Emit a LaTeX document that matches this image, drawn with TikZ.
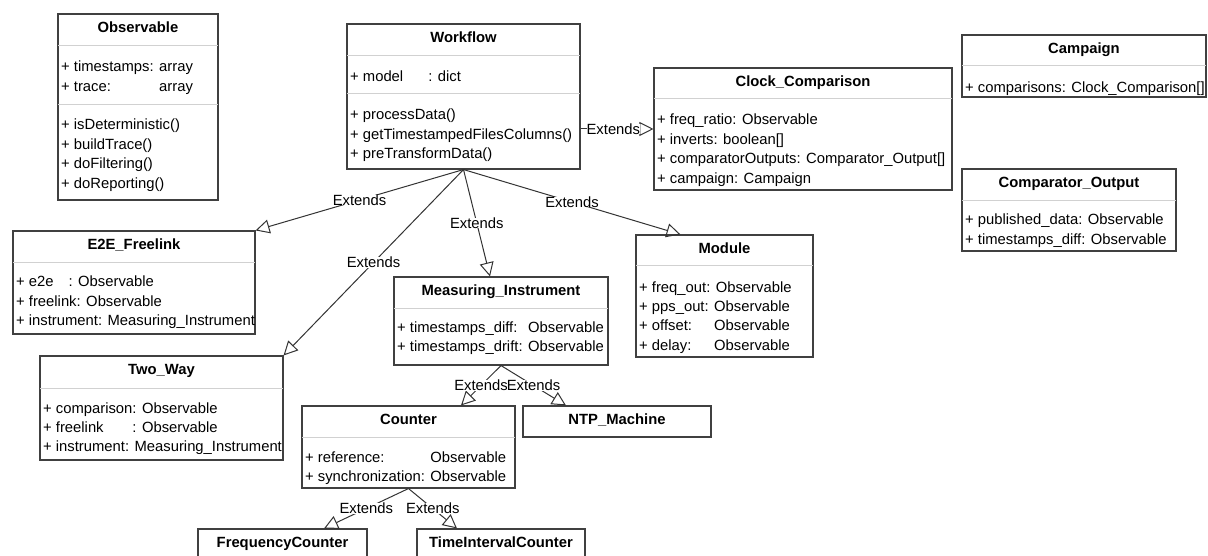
\documentclass[tikz,border=0pt]{standalone}
\usepackage{fontspec}
\setmainfont{Liberation Sans}
\usetikzlibrary{arrows.meta,fit,calc}

\newcommand\umlfont{\fontsize{14.8}{19.4}\selectfont}

\tikzset{
  classbox/.style={draw=black!75, line width=1.1pt, inner sep=0pt, fill=white},
  classtitle/.style={anchor=base, inner sep=0pt, font=\umlfont\bfseries},
  member/.style={anchor=base west, inner sep=0pt},
  sepline/.style={draw=black!18, line width=1pt},
  ext/.style={draw=black!80, line width=1pt, -{Triangle[open, length=14pt, width=14pt]}},
  extlabel/.style={fill=white, inner sep=0pt},
}

% class frame with its bold name in the top compartment
\newcommand\umlclass[6]{%
  \node[classbox, fit={(#2,#3) (#4,#5)}] (#1) {};
  \node[classtitle] (#1-title) at ($(#1.north)+(0,19)$) {#6};
}
% light rule between two compartments
\newcommand\umlsep[3]{\draw[sepline] (#1,#3) -- (#2,#3);}
% one line per member, starting at the given baseline
\newcommand\members[4]{%
  \foreach \txt [count=\k] in {#4}{%
    \node[member] (#1-\k) at ({#2+3},{#3+19.4*(\k-1)}) {\txt};
  }}

\begin{document}
\begin{tikzpicture}[x=1pt, y=-1pt, font=\umlfont]
\useasboundingbox (0,0) rectangle (1208,556);
\clip (0,0) rectangle (1208,556);

% Observable
\umlclass{obs}{58}{14}{218}{200}{Observable}
\umlsep{58}{218}{46}
\umlsep{58}{218}{105}
\members{obs-a}{58}{72}{+ timestamps: array, + \rlap{trace:}\phantom{timestamps: }array}
\members{obs-m}{58}{130}{+ isDeterministic(), + buildTrace(), + doFiltering(), + doReporting()}

% Workflow
\umlclass{wf}{347}{24}{580}{169}{Workflow}
\umlsep{347}{580}{56}
\umlsep{347}{580}{94}
\members{wf-a}{347}{82}{+ model\hspace{25pt}: dict}
\members{wf-m}{347}{120}{+ processData(), + getTimestampedFilesColumns(), + preTransformData()}

% Clock_Comparison
\umlclass{cc}{654}{68}{952}{190}{Clock\_Comparison}
\umlsep{654}{952}{99}
\members{cc-a}{654}{125}{+ freq\_ratio: Observable, + inverts: boolean[], + comparatorOutputs: Comparator\_Output[], + campaign: Campaign}

% Campaign
\umlclass{camp}{962}{35}{1206}{97}{Campaign}
\umlsep{962}{1206}{66}
\members{camp-a}{962}{93}{+ comparisons: Clock\_Comparison[]}

% Comparator_Output
\umlclass{cmpo}{962}{169}{1176}{251}{Comparator\_Output}
\umlsep{962}{1176}{201}
\members{cmpo-a}{962}{225}{+ published\_data: Observable, + timestamps\_diff: Observable}

% E2E_Freelink
\umlclass{e2e}{13}{231}{255}{334}{E2E\_Freelink}
\umlsep{13}{255}{263}
\members{e2e-a}{13}{287}{+ e2e\hspace{15pt}: Observable, + freelink: Observable, + instrument: Measuring\_Instrument}

% Two_Way
\umlclass{tw}{40}{356}{283}{460}{Two\_Way}
\umlsep{40}{283}{388}
\members{tw-a}{40}{413}{+ comparison: Observable, + \rlap{freelink}\phantom{comparison}: Observable, + instrument: Measuring\_Instrument}

% Measuring_Instrument
\umlclass{mi}{394}{277}{608}{365}{Measuring\_Instrument}
\umlsep{394}{608}{308}
\members{mi-a}{394}{332}{+ \rlap{timestamps\_diff:}\phantom{timestamps\_drift: }Observable, + timestamps\_drift: Observable}

% Module
\umlclass{mod}{636}{235}{813}{357}{Module}
\umlsep{636}{813}{266}
\members{mod-a}{636}{292}{+ freq\_out: Observable, + pps\_out: Observable, + \rlap{offset:}\phantom{pps\_out: }Observable, + \rlap{delay:}\phantom{pps\_out: }Observable}

% Counter
\umlclass{ctr}{302}{406}{515}{488}{Counter}
\umlsep{302}{515}{437}
\members{ctr-a}{302}{462}{+ \rlap{reference:}\phantom{synchronization: }Observable, + synchronization: Observable}

% NTP_Machine
\umlclass{ntp}{523}{406}{711}{437}{NTP\_Machine}

% counters
\umlclass{fc}{198}{529}{367}{590}{FrequencyCounter}
\umlclass{tic}{417}{529}{585}{590}{TimeIntervalCounter}

% generalisations
\draw[ext] (wf.east |- cc.west) -- node[extlabel, pos=0.45]{Extends} (cc.west);
\draw[ext] (wf.south) -- node[extlabel]{Extends} (e2e.north east);
\draw[ext] (wf.south) -- node[extlabel]{Extends} (tw.north east);
\draw[ext] (wf.south) -- node[extlabel]{Extends} ([xshift=-11pt]mi.north);
\draw[ext] (wf.south) -- node[extlabel]{Extends} ([xshift=-44pt]mod.north);
\draw[ext] (mi.south) -- node[extlabel]{Extends} ([xshift=52.5pt]ctr.north);
\draw[ext] (mi.south) -- node[extlabel]{Extends} ([xshift=-51pt]ntp.north);
\draw[ext] (ctr.south) -- node[extlabel]{Extends} ([xshift=41.5pt]fc.north);
\draw[ext] (ctr.south) -- node[extlabel]{Extends} ([xshift=-44pt]tic.north);
\end{tikzpicture}
\end{document}
